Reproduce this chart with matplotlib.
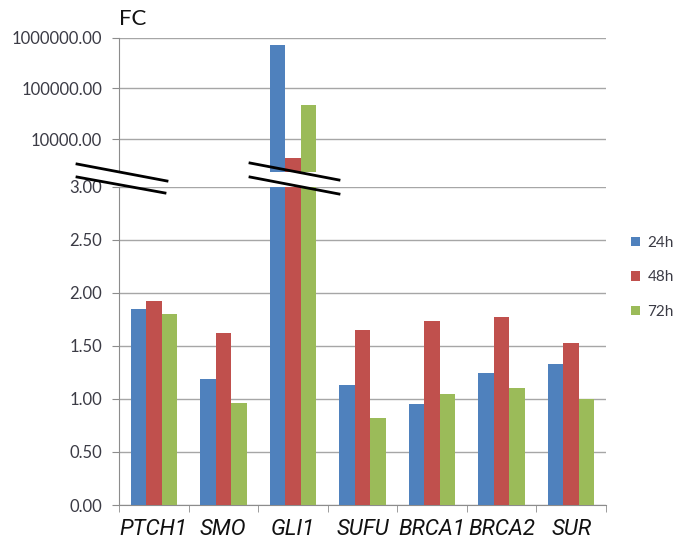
import matplotlib
matplotlib.use("Agg")
import matplotlib.pyplot as plt
import numpy as np
from matplotlib.lines import Line2D
from matplotlib.ticker import FixedLocator, FuncFormatter

genes = ["PTCH1", "SMO", "GLI1", "SUFU", "BRCA1", "BRCA2", "SUR"]
series_names = ["24h", "48h", "72h"]
fc_24h = [1.85, 1.19, 718000.0, 1.13, 0.95, 1.24, 1.33]
fc_48h = [1.92, 1.62, 4230.0, 1.65, 1.73, 1.77, 1.53]
fc_72h = [1.80, 0.96, 47300.0, 0.82, 1.05, 1.10, 1.00]
colors = ["#4F81BD", "#C0504D", "#9BBB59"]

lower_ticks = [0.0, 0.5, 1.0, 1.5, 2.0, 2.5, 3.0]
upper_ticks = [10000.0, 100000.0, 1000000.0]

plt.rcParams['font.family'] = ['Lato', 'DejaVu Sans']

W, H = 674, 546
fig = plt.figure(figsize=(W / 100, H / 100), dpi=100)

def fx(px):
    return px / W

def fy(py):
    return 1 - py / H

left, right = 119, 606
ax_lo = fig.add_axes([fx(left), fy(505), fx(right - left), fy(186.7) - fy(505)])
ax_hi = fig.add_axes([fx(left), fy(172), fx(right - left), fy(37.7) - fy(172)], sharex=ax_lo)

x = np.arange(len(genes))
w = 1 / 4.5
grid_c = "#A6A6A6"
axis_c = "#8C8C8C"
lab_c = "#3B3B45"

for ax in (ax_lo, ax_hi):
    for i, (vals, c) in enumerate(zip([fc_24h, fc_48h, fc_72h], colors)):
        ax.bar(x + (i - 1) * w, vals, width=w, color=c, zorder=3,
               label=series_names[i] if ax is ax_lo else None)
    ax.set_xlim(-0.5, len(genes) - 0.5)
    ax.spines['right'].set_visible(False)
    ax.spines['left'].set_color(axis_c)
    ax.spines['bottom'].set_color(axis_c)
    ax.yaxis.grid(True, color=grid_c, lw=1.0, zorder=0)
    ax.tick_params(axis='y', direction='out', length=5, color=axis_c,
                   labelsize=12, labelcolor=lab_c, pad=7)

# lower linear axis
ax_lo.set_ylim(0, 3.0)
ax_lo.yaxis.set_major_locator(FixedLocator(lower_ticks))
ax_lo.yaxis.set_major_formatter(FuncFormatter(lambda v, p: f"{v:.2f}"))
ax_lo.spines['top'].set_visible(False)
ax_lo.xaxis.set_major_locator(FixedLocator(x))
ax_lo.set_xticklabels(genes, fontsize=16, style='italic', color='#111111',
                      family=['Roboto', 'DejaVu Sans'])
ax_lo.xaxis.set_minor_locator(FixedLocator(np.arange(-0.5, len(genes), 1.0)))
ax_lo.tick_params(axis='x', which='major', length=0, pad=10)
ax_lo.tick_params(axis='x', which='minor', length=5, color=axis_c, direction='out')

# upper log axis
ax_hi.set_yscale('log')
ax_hi.set_ylim(2270, 1000000.0)
ax_hi.yaxis.set_major_locator(FixedLocator(upper_ticks))
ax_hi.yaxis.set_minor_locator(FixedLocator([]))
ax_hi.yaxis.set_major_formatter(FuncFormatter(lambda v, p: f"{v:.2f}"))
ax_hi.spines['bottom'].set_visible(False)
ax_hi.spines['top'].set_visible(False)
ax_hi.tick_params(axis='x', which='both', bottom=False, labelbottom=False)

fig.text(fx(119), fy(19), "FC", fontsize=16, color='#111111', va='center', ha='left')

# break marks
for (x0, y0, x1, y1) in [(77, 164, 167, 181), (77, 177, 165, 193),
                         (250, 163, 339, 180), (250, 177, 339, 194)]:
    fig.add_artist(Line2D([fx(x0), fx(x1)], [fy(y0), fy(y1)], color='black',
                          lw=2.0, transform=fig.transFigure, zorder=10))

leg = fig.legend(loc='upper left', bbox_to_anchor=(fx(617), fy(222)),
                 frameon=False, fontsize=11, handlelength=0.6, handleheight=0.6,
                 labelspacing=1.35, handletextpad=0.5, labelcolor=lab_c)

fig.savefig("out.png", dpi=100)
